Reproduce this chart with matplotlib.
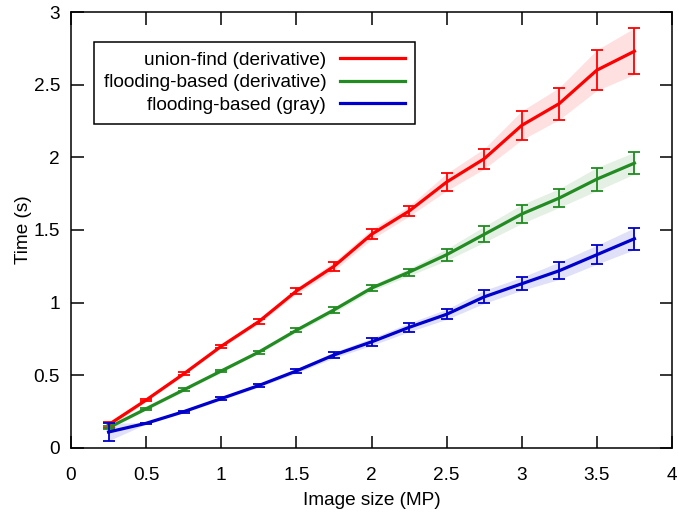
import numpy as np
import matplotlib
matplotlib.use("Agg")
import matplotlib.pyplot as plt

plt.rcParams['font.family'] = ['Liberation Sans', 'DejaVu Sans']

# datos
sizes = [0.25, 0.5, 0.75, 1.0, 1.25, 1.5, 1.75, 2.0, 2.25, 2.5, 2.75, 3.0, 3.25, 3.5, 3.75]

uf_deriv = [0.16, 0.33, 0.51, 0.70, 0.87, 1.08, 1.25, 1.47, 1.63, 1.83, 1.99, 2.22, 2.37, 2.60, 2.73]
uf_deriv_err = [0.02, 0.01, 0.01, 0.01, 0.015, 0.02, 0.03, 0.035, 0.035, 0.06, 0.07, 0.10, 0.11, 0.14, 0.16]

fl_deriv = [0.14, 0.27, 0.40, 0.53, 0.66, 0.81, 0.95, 1.10, 1.21, 1.33, 1.47, 1.61, 1.72, 1.85, 1.96]
fl_deriv_err = [0.01, 0.008, 0.01, 0.01, 0.01, 0.015, 0.02, 0.02, 0.025, 0.04, 0.055, 0.065, 0.065, 0.08, 0.075]

fl_gray = [0.11, 0.17, 0.25, 0.34, 0.43, 0.53, 0.64, 0.73, 0.83, 0.92, 1.04, 1.13, 1.22, 1.33, 1.44]
fl_gray_err = [0.06, 0.005, 0.008, 0.01, 0.01, 0.015, 0.02, 0.025, 0.03, 0.035, 0.045, 0.045, 0.06, 0.065, 0.075]

labels = ['union-find (derivative)', 'flooding-based (derivative)', 'flooding-based (gray)']
colores = ['#ff0000', '#228b22', '#0000cc']

fs = 13.7

fig = plt.figure(figsize=(6.78, 5.16), dpi=100)
ax = fig.add_axes([71 / 678, 68 / 516, 601 / 678, 436 / 516])

x = np.array(sizes)
series = [(uf_deriv, uf_deriv_err), (fl_deriv, fl_deriv_err), (fl_gray, fl_gray_err)]
for (y, e), lab, c in zip(series, labels, colores):
    y = np.array(y)
    e = np.array(e)
    ax.fill_between(x, y - e, y + e, color=c, alpha=0.12, linewidth=0)
    ax.errorbar(x, y, yerr=e, fmt='none', ecolor=c, elinewidth=1.3, capsize=4.5, capthick=1.3)
    ax.plot(x, y, color=c, linewidth=2.3, label=lab)

ax.set_xlim(0, 4)
ax.set_ylim(0, 3)
ax.set_xticks(np.arange(0, 4.01, 0.5))
ax.set_yticks(np.arange(0, 3.01, 0.5))
ax.set_xticklabels(['0', '0.5', '1', '1.5', '2', '2.5', '3', '3.5', '4'])
ax.set_yticklabels(['0', '0.5', '1', '1.5', '2', '2.5', '3'])
ax.tick_params(direction='in', length=9, width=1.1, top=True, right=True,
               labelsize=fs)
ax.tick_params(axis='x', pad=14)
ax.tick_params(axis='y', pad=8)
for s in ax.spines.values():
    s.set_linewidth(1.1)

ax.set_xlabel('Image size (MP)', fontsize=fs)
ax.set_ylabel('Time (s)', fontsize=fs)
ax.xaxis.set_label_coords(0.5, -0.101)
ax.yaxis.set_label_coords(-0.065, 0.5)

leg = ax.legend(loc='upper left', bbox_to_anchor=(23 / 601, 1 - 30 / 436),
                markerfirst=False, fontsize=fs, fancybox=False, framealpha=1,
                edgecolor='black', handlelength=3.4, handletextpad=0.75,
                labelspacing=0.28, borderpad=0.5, borderaxespad=0)
leg.get_frame().set_linewidth(1.1)

plt.savefig('out.png', dpi=100)
